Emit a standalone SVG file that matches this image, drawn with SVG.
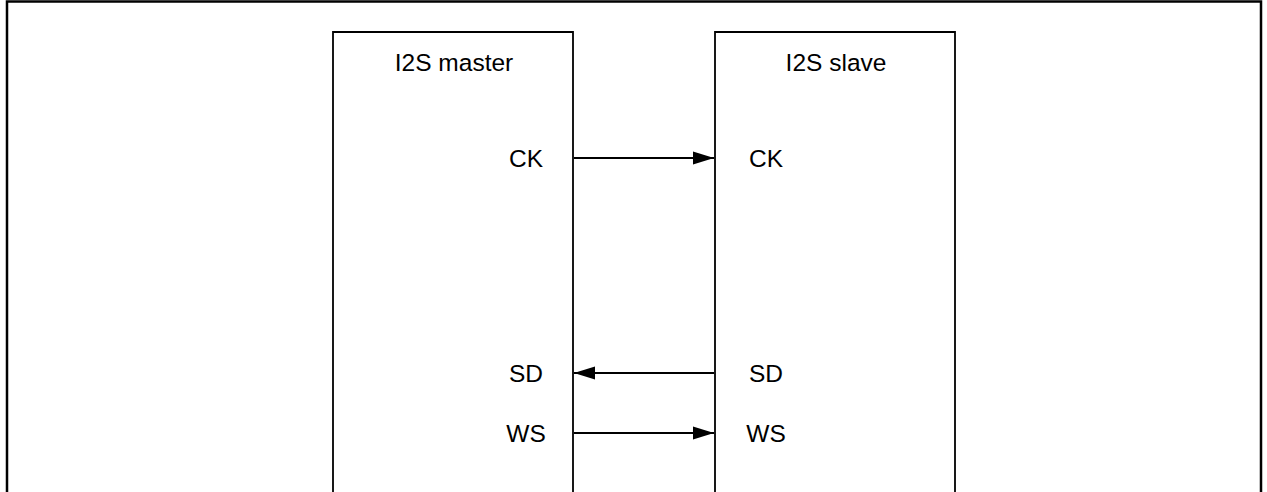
<svg xmlns="http://www.w3.org/2000/svg" width="1267" height="492" viewBox="0 0 1267 492">
<style>
.frame{fill:none;stroke:#000;stroke-width:2.5}
.box{fill:none;stroke:#000;stroke-width:1.8}
.t{font-family:"Liberation Sans",Arial,sans-serif;font-size:24.5px;fill:#000;text-anchor:middle}
.c{stroke:#000;stroke-width:1.8;fill:none}
</style>
<defs>
<marker id="ah" markerWidth="22" markerHeight="14" refX="21" refY="7" orient="auto" markerUnits="userSpaceOnUse">
<path d="M0,0.5 L21,7 L0,13.5 z" fill="#000"/>
</marker>
</defs>
<rect x="0" y="0" width="1267" height="492" fill="#fff"/>
<path class="frame" d="M7,500 V1.5 H1261 V500"/>
<g id="master">
<path class="box" d="M333,500 V32 H573 V500"/>
<text class="t" x="454" y="71">I2S master</text>
<text class="t" x="526" y="167">CK</text>
<text class="t" x="526" y="382">SD</text>
<text class="t" x="526" y="442">WS</text>
</g>
<g id="slave">
<path class="box" d="M715,500 V32 H955 V500"/>
<text class="t" x="836" y="71">I2S slave</text>
<text class="t" x="766" y="167">CK</text>
<text class="t" x="766" y="382">SD</text>
<text class="t" x="766" y="442">WS</text>
</g>
<g id="connectors">
<line class="c" x1="574" y1="158" x2="714" y2="158" marker-end="url(#ah)"/>
<line class="c" x1="714" y1="373" x2="574" y2="373" marker-end="url(#ah)"/>
<line class="c" x1="574" y1="433" x2="714" y2="433" marker-end="url(#ah)"/>
</g>
</svg>
